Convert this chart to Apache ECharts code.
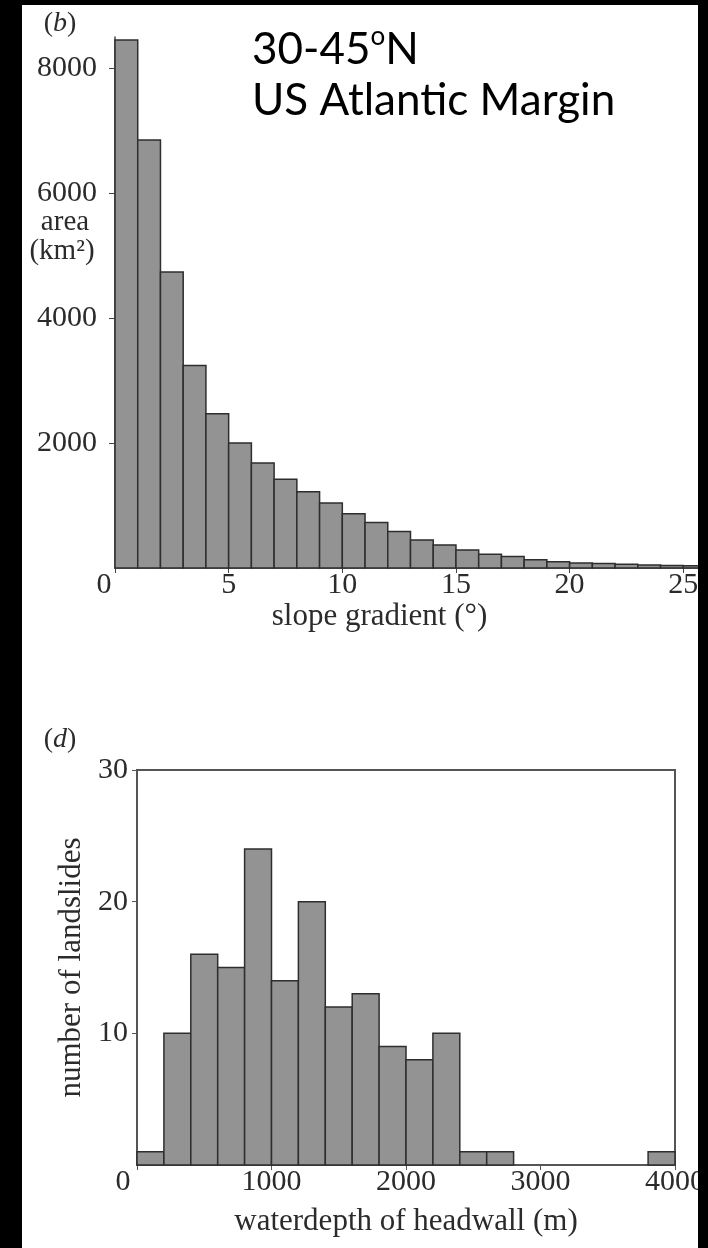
<!DOCTYPE html>
<html>
<head>
<meta charset="utf-8">
<script src="https://cdn.jsdelivr.net/npm/echarts@6/dist/echarts.min.js"></script>
<style>
  html, body { margin: 0; padding: 0; background: #fff; }
  #chart { width: 708px; height: 1248px; }
</style>
</head>
<body>
<div id="chart"></div>
<script>
// (b) area per 1-degree slope bin
const slopeBinStart = [0, 1, 2, 3, 4, 5, 6, 7, 8, 9, 10, 11, 12, 13, 14, 15, 16, 17, 18, 19, 20, 21, 22, 23, 24, 25];
const slopeBinWidth = 1;
const slopeArea = [8450, 6850, 4740, 3240, 2470, 2000, 1680, 1420, 1220, 1040, 870, 730, 585, 450, 370, 290, 222, 186, 132, 100, 80, 72, 60, 48, 40, 35];
const slopeTickLabels = [0, 5, 10, 15, 20, 25];
const areaTickLabels = [2000, 4000, 6000, 8000];

// (d) landslide count per 200 m headwall depth bin
const depthBinStart = [0, 200, 400, 600, 800, 1000, 1200, 1400, 1600, 1800, 2000, 2200, 2400, 2600, 3800];
const depthBinWidth = 200;
const depthCount = [1, 10, 16, 15, 24, 14, 20, 12, 13, 9, 8, 10, 1, 1, 1];
const depthTickLabels = [0, 1000, 2000, 3000, 4000];
const countTickLabels = [10, 20, 30];

const serif = '"Liberation Serif", "DejaVu Serif", serif';
const sans = 'Lato, "Open Sans", sans-serif';
const ink = '#2b2b2b';
const tickFont = 30;
const nameFont = 31;

function histData(starts, width, values) {
  return starts.map((s, i) => [s, s + width, values[i]]);
}

function histRect(params, api) {
  const p0 = api.coord([api.value(0), api.value(2)]);
  const p1 = api.coord([api.value(1), 0]);
  return {
    type: 'rect',
    shape: { x: p0[0], y: p0[1], width: p1[0] - p0[0], height: p1[1] - p0[1] },
    style: { fill: '#939393', stroke: '#2e2e2e', lineWidth: 1.5 }
  };
}

// the lone "0" sits at the corner, a bit left of the axis
function cornerZero(shift) {
  return {
    formatter: v => (v === 0 ? '{z|0}' : String(v)),
    rich: { z: { fontFamily: serif, fontSize: tickFont, color: ink, padding: [0, shift * 2, 0, 0] } }
  };
}

const chart = echarts.init(document.getElementById('chart'));

chart.setOption({
  animation: false,
  backgroundColor: '#fff',
  grid: [
    { left: 115, right: 2, top: 37, bottom: 680 },
    { left: 137, right: 20, top: 770, bottom: 83, show: true, borderColor: '#555', borderWidth: 2 }
  ],
  xAxis: [
    {
      gridIndex: 0, type: 'value', min: 0, max: 26,
      name: 'slope gradient (°)', nameLocation: 'middle', nameGap: 31,
      nameTextStyle: { fontFamily: serif, fontSize: nameFont, color: ink, padding: [0, 62, 0, 0] },
      axisLine: { lineStyle: { color: '#444', width: 1.5 } },
      axisTick: { customValues: slopeTickLabels, length: 5, lineStyle: { color: '#444' } },
      axisLabel: Object.assign({ customValues: slopeTickLabels, margin: 2, fontFamily: serif, fontSize: tickFont, color: ink }, cornerZero(11)),
      splitLine: { show: false }
    },
    {
      gridIndex: 1, type: 'value', min: 0, max: 4000,
      name: 'waterdepth of headwall (m)', nameLocation: 'middle', nameGap: 41,
      nameTextStyle: { fontFamily: serif, fontSize: nameFont, color: ink },
      axisLine: { lineStyle: { color: '#555', width: 2 } },
      axisTick: { customValues: depthTickLabels, length: 5, lineStyle: { color: '#555' } },
      axisLabel: Object.assign({ customValues: depthTickLabels, margin: 2, fontFamily: serif, fontSize: tickFont, color: ink }, cornerZero(14)),
      splitLine: { show: false }
    }
  ],
  yAxis: [
    {
      gridIndex: 0, type: 'value', min: 0, max: 8500,
      axisLine: { show: true, lineStyle: { color: '#444', width: 1.5 } },
      axisTick: { show: true, customValues: areaTickLabels, length: 6, lineStyle: { color: '#444' } },
      axisLabel: { customValues: areaTickLabels, formatter: v => String(v), margin: 18, fontFamily: serif, fontSize: tickFont, color: ink },
      splitLine: { show: false }
    },
    {
      gridIndex: 1, type: 'value', min: 0, max: 30,
      name: 'number of landslides', nameLocation: 'middle', nameGap: 40,
      nameTextStyle: { fontFamily: serif, fontSize: nameFont, color: ink },
      axisLine: { show: true, lineStyle: { color: '#555', width: 2 } },
      axisTick: { show: true, customValues: countTickLabels, length: 5, lineStyle: { color: '#555' } },
      axisLabel: { customValues: countTickLabels, formatter: v => String(v), margin: 9, fontFamily: serif, fontSize: tickFont, color: ink },
      splitLine: { show: false }
    }
  ],
  series: [
    {
      type: 'custom', xAxisIndex: 0, yAxisIndex: 0,
      renderItem: histRect, encode: { x: [0, 1], y: 2 },
      data: histData(slopeBinStart, slopeBinWidth, slopeArea)
    },
    {
      type: 'custom', xAxisIndex: 1, yAxisIndex: 1,
      renderItem: histRect, encode: { x: [0, 1], y: 2 },
      data: histData(depthBinStart, depthBinWidth, depthCount)
    }
  ],
  graphic: [
    {
      type: 'text', left: 252, top: 24,
      style: {
        text: '30-45{s|o}N', fontFamily: sans, fontSize: 44, lineHeight: 52, fill: '#000',
        rich: { s: { fontFamily: sans, fontSize: 26, lineHeight: 26, verticalAlign: 'top', fill: '#000' } }
      }
    },
    {
      type: 'text', left: 252, top: 75,
      style: { text: 'US Atlantic Margin', fontFamily: sans, fontSize: 44, lineHeight: 52, fill: '#000' }
    },
    {
      type: 'text', x: 60, y: 24,
      style: {
        text: '({i|b})', fontFamily: serif, fontSize: 28, fill: ink, align: 'center', verticalAlign: 'middle',
        rich: { i: { fontFamily: serif, fontStyle: 'italic', fontSize: 28, fill: ink } }
      }
    },
    {
      type: 'text', x: 60, y: 740,
      style: {
        text: '({i|d})', fontFamily: serif, fontSize: 28, fill: ink, align: 'center', verticalAlign: 'middle',
        rich: { i: { fontFamily: serif, fontStyle: 'italic', fontSize: 28, fill: ink } }
      }
    },
    {
      type: 'text', x: 65, y: 222,
      style: { text: 'area', fontFamily: serif, fontSize: 29, fill: ink, align: 'center', verticalAlign: 'middle' }
    },
    {
      type: 'text', x: 62, y: 251,
      style: { text: '(km²)', fontFamily: serif, fontSize: 29, fill: ink, align: 'center', verticalAlign: 'middle' }
    },
    // black frame strips of the scanned figure
    { type: 'rect', z: 100, shape: { x: 0, y: 0, width: 22, height: 1248 }, style: { fill: '#000' } },
    { type: 'rect', z: 100, shape: { x: 0, y: 0, width: 708, height: 5 }, style: { fill: '#000' } },
    { type: 'rect', z: 100, shape: { x: 698, y: 0, width: 10, height: 1248 }, style: { fill: '#000' } }
  ]
});
</script>
</body>
</html>
